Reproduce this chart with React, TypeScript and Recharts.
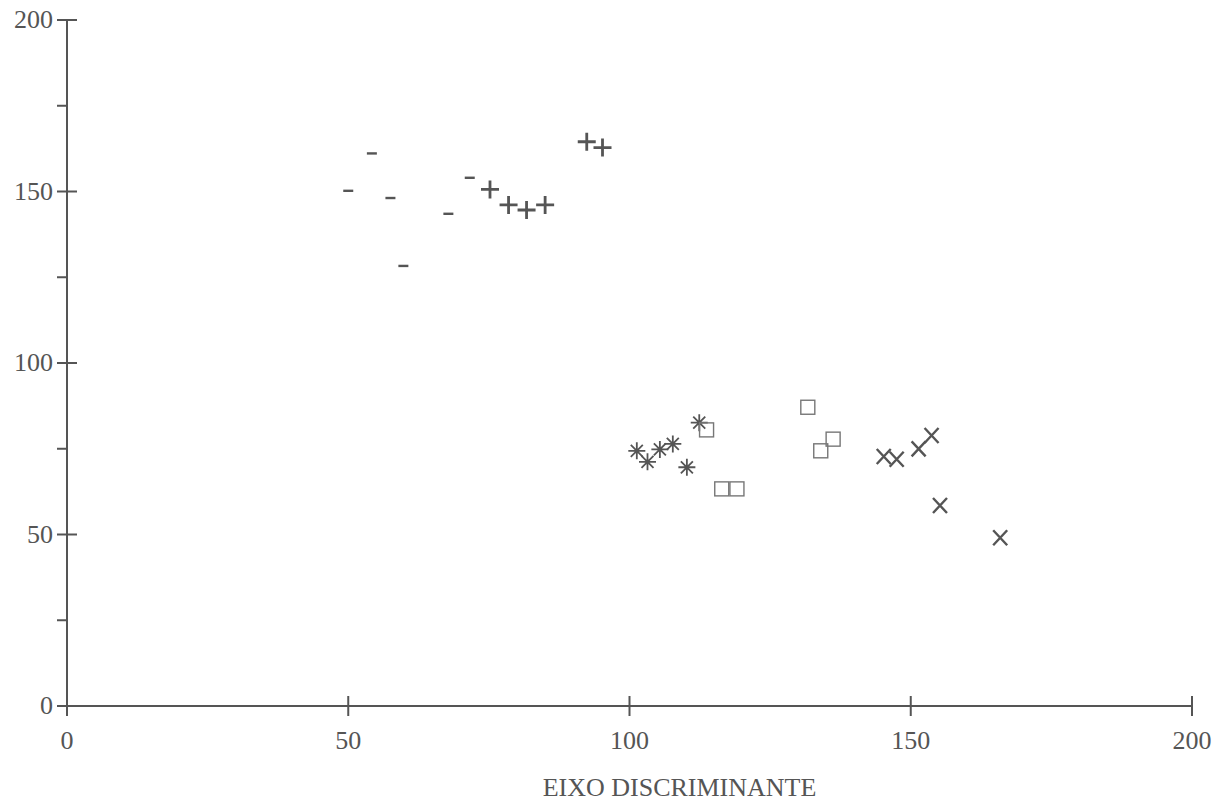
import { ScatterChart, Scatter, XAxis, YAxis } from 'recharts';

const minusPoints = [
  { x: 54.2, y: 161.1 },
  { x: 50.0, y: 150.2 },
  { x: 57.5, y: 148.1 },
  { x: 67.8, y: 143.5 },
  { x: 71.6, y: 154.0 },
  { x: 59.8, y: 128.3 },
];

const plusPoints = [
  { x: 75.2, y: 150.6 },
  { x: 78.5, y: 146.1 },
  { x: 81.7, y: 144.6 },
  { x: 85.0, y: 146.1 },
  { x: 92.4, y: 164.5 },
  { x: 95.2, y: 162.8 },
];

const starPoints = [
  { x: 101.3, y: 74.4 },
  { x: 103.2, y: 71.2 },
  { x: 105.4, y: 74.8 },
  { x: 107.7, y: 76.4 },
  { x: 110.2, y: 69.6 },
  { x: 112.4, y: 82.6 },
];

const squarePoints = [
  { x: 113.7, y: 80.5 },
  { x: 116.4, y: 63.3 },
  { x: 119.1, y: 63.3 },
  { x: 131.7, y: 87.1 },
  { x: 134.0, y: 74.4 },
  { x: 136.2, y: 77.8 },
];

const crossPoints = [
  { x: 145.2, y: 72.9 },
  { x: 147.5, y: 72.1 },
  { x: 151.4, y: 75.1 },
  { x: 153.7, y: 79.0 },
  { x: 155.2, y: 58.6 },
  { x: 165.9, y: 49.2 },
];

const xTicks = [0, 50, 100, 150, 200];
const yTicks = [0, 25, 50, 75, 100, 125, 150, 175, 200];

const INK = '#555';
const FONT = '"Liberation Serif", "Times New Roman", serif';
const FS = 26;

function YTick(props: any) {
  const { x, y, payload } = props;
  const v = payload.value;
  const major = v % 50 === 0;
  const right = major && v !== 0 ? 10 : 0;
  return (
    <g>
      <line x1={x - 10} x2={x + right} y1={y} y2={y} stroke={INK} strokeWidth={2} />
      {major && (
        <text x={x - 14} y={y + 8} textAnchor='end' fontSize={FS} fontFamily={FONT} fill={INK}>
          {v}
        </text>
      )}
    </g>
  );
}

function XTick(props: any) {
  const { x, y, payload } = props;
  const v = payload.value;
  const up = v !== 0 ? 10 : 0;
  return (
    <g>
      <line x1={x} x2={x} y1={y - up} y2={y + 10} stroke={INK} strokeWidth={2} />
      <text x={x} y={y + 43} textAnchor='middle' fontSize={FS} fontFamily={FONT} fill={INK}>
        {v}
      </text>
    </g>
  );
}

const AxisTitle = (props: any) => {
  const vb = props.viewBox || {};
  return (
    <text x={vb.x + vb.width / 2 + 50} y={796} textAnchor='middle' fontSize={FS} fontFamily={FONT} fill={INK}>
      EIXO DISCRIMINANTE
    </text>
  );
};

const Minus = ({ cx, cy }: any) => (
  <line x1={cx - 5} x2={cx + 5} y1={cy} y2={cy} stroke={INK} strokeWidth={2.4} />
);

const Plus = ({ cx, cy }: any) => (
  <path d={`M${cx - 9},${cy}H${cx + 9}M${cx},${cy - 9}V${cy + 9}`} stroke={INK} strokeWidth={2.8} fill='none' />
);

const Star = ({ cx, cy }: any) => {
  const r = 8.5;
  let d = '';
  for (let i = 0; i < 4; i++) {
    const a = (i * Math.PI) / 4;
    const dx = r * Math.cos(a);
    const dy = r * Math.sin(a);
    d += `M${cx - dx},${cy - dy}L${cx + dx},${cy + dy}`;
  }
  return <path d={d} stroke={INK} strokeWidth={1.8} fill='none' />;
};

const Square = ({ cx, cy }: any) => (
  <rect x={cx - 7} y={cy - 7} width={14} height={14} stroke='#777' strokeWidth={1.4} fill='none' />
);

const Cross = ({ cx, cy }: any) => (
  <path d={`M${cx - 7},${cy - 7}L${cx + 7},${cy + 8}M${cx + 7},${cy - 7}L${cx - 7},${cy + 8}`} stroke={INK} strokeWidth={2.4} fill='none' />
);

export default function App() {
  return (
    <div style={{ position: 'absolute', left: 0, top: 0, background: '#fff' }}>
      <ScatterChart width={1220} height={804} margin={{ top: 20, right: 28, left: 7, bottom: 38 }}>
        <XAxis
          type='number'
          dataKey='x'
          domain={[0, 200]}
          ticks={xTicks}
          interval={0}
          tickSize={0}
          tickMargin={0}
          tick={<XTick />}
          height={60}
          axisLine={{ stroke: INK, strokeWidth: 2 }}
          tickLine={false}
          label={{ position: 'bottom', content: <AxisTitle /> }}
        />
        <YAxis
          type='number'
          dataKey='y'
          domain={[0, 200]}
          ticks={yTicks}
          interval={0}
          tickSize={0}
          tickMargin={0}
          tick={<YTick />}
          width={60}
          axisLine={{ stroke: INK, strokeWidth: 2 }}
          tickLine={false}
        />
        <Scatter data={minusPoints} shape={<Minus />} isAnimationActive={false} />
        <Scatter data={plusPoints} shape={<Plus />} isAnimationActive={false} />
        <Scatter data={starPoints} shape={<Star />} isAnimationActive={false} />
        <Scatter data={squarePoints} shape={<Square />} isAnimationActive={false} />
        <Scatter data={crossPoints} shape={<Cross />} isAnimationActive={false} />
      </ScatterChart>
    </div>
  );
}
